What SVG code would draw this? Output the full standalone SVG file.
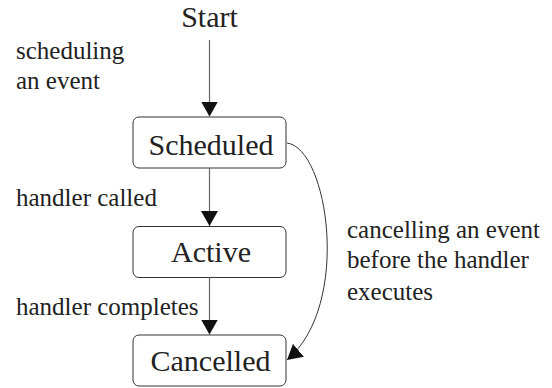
<svg xmlns="http://www.w3.org/2000/svg" width="552" height="388" viewBox="0 0 552 388">
<style>
.box{fill:#fff;stroke:#333;stroke-width:1}
.nt{font-size:30px;fill:#222;text-anchor:middle}
.lt{font-size:25px;fill:#222}
.edge{fill:none;stroke:#666;stroke-width:1.2}
.curve{fill:none;stroke:#333;stroke-width:1}
</style>
<defs>
<marker id="ah" markerUnits="userSpaceOnUse" markerWidth="16" markerHeight="18" refX="15" refY="8.5" orient="auto" viewBox="0 0 16 17">
<path d="M0,0 L15,8.5 L0,17 z" fill="#111"/>
</marker>
</defs>
<g font-family="Liberation Serif, Times New Roman, DejaVu Serif, serif">
<g id="start"><text class="nt" x="209.5" y="27" font-size="29">Start</text></g>
<g id="scheduled"><rect class="box" x="133" y="117" width="153" height="51" rx="6"/><text class="nt" x="211" y="155">Scheduled</text></g>
<g id="active"><rect class="box" x="133" y="226.5" width="153" height="51" rx="6"/><text class="nt" x="211" y="262">Active</text></g>
<g id="cancelled"><rect class="box" x="133" y="335" width="153" height="51" rx="6"/><text class="nt" x="210.5" y="371">Cancelled</text></g>
<g id="connectors">
<path class="edge" d="M209.5,40 L209.5,116.5" marker-end="url(#ah)"/>
<path class="edge" d="M209.5,168 L209.5,226" marker-end="url(#ah)"/>
<path class="edge" d="M209.5,277.5 L209.5,334.5" marker-end="url(#ah)"/>
<path class="curve" d="M287,143 C328,148 352,305 287,360" marker-end="url(#ah)"/>
</g>
<g id="labels">
<text class="lt" x="16" y="59">scheduling</text>
<text class="lt" x="16" y="89">an event</text>
<text class="lt" x="16" y="206">handler called</text>
<text class="lt" x="16" y="315">handler completes</text>
<text class="lt" x="347" y="238">cancelling an event</text>
<text class="lt" x="347" y="268">before the handler</text>
<text class="lt" x="347" y="300">executes</text>
</g>
</g>
</svg>
